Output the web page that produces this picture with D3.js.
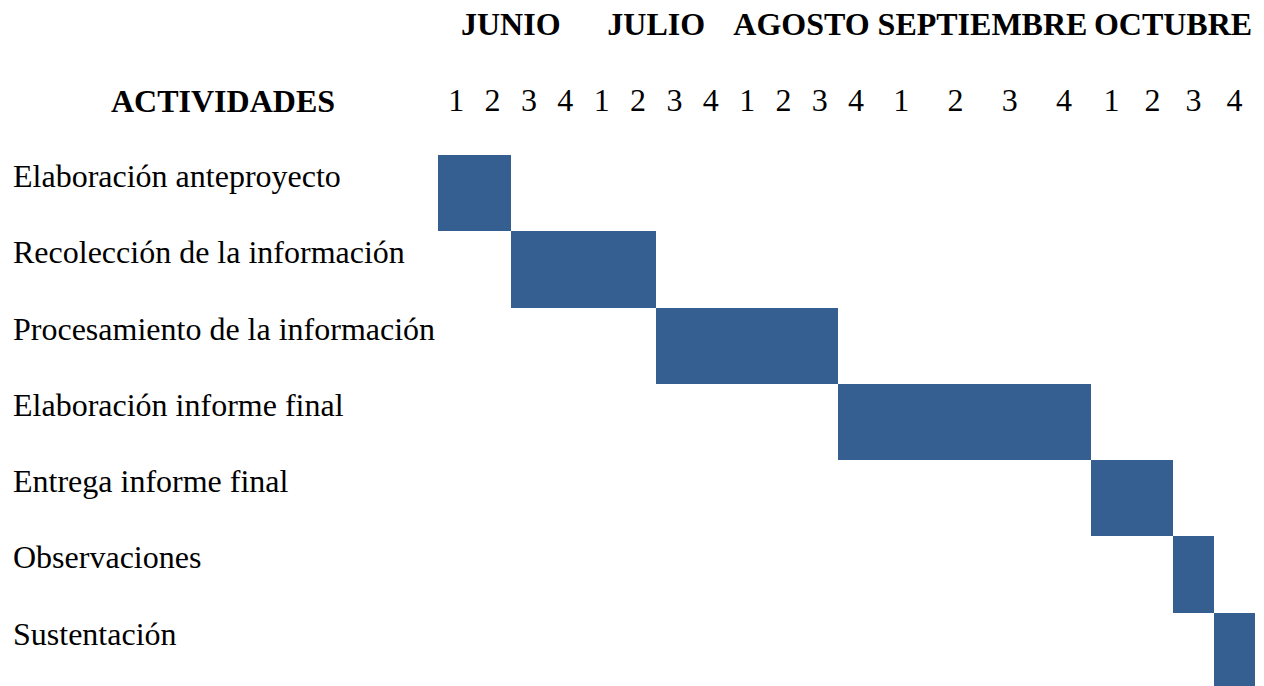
<!DOCTYPE html>
<html>
<head>
<meta charset="utf-8">
<script src="https://cdn.jsdelivr.net/npm/d3@7"></script>
<style>
  html, body { margin: 0; padding: 0; background: #fff; }
  text { font-family: "Liberation Serif", "Times New Roman", serif; fill: #000; }
</style>
</head>
<body>
<div id="chart"></div>
<script>
// data
var months = ["JUNIO", "JULIO", "AGOSTO", "SEPTIEMBRE", "OCTUBRE"];
var weekLabels = ["1", "2", "3", "4"];
var activities = [
    "Elaboración anteproyecto",
    "Recolección de la información",
    "Procesamiento de la información",
    "Elaboración informe final",
    "Entrega informe final",
    "Observaciones",
    "Sustentación"
];
// week index (0 = first week of JUNIO), end is exclusive
var startWeek = [0, 2, 6, 11, 16, 18, 19];
var endWeek   = [2, 6, 11, 16, 18, 19, 20];

var width = 1264, height = 686,
    barColor = "#365f91",
    fontSize = 32;

var svg = d3.select("#chart").append("svg")
    .attr("width", width)
    .attr("height", height);

// the columns are not even in the original table, so the week scale is piecewise
var X = d3.scaleLinear()
    .domain([0, 8, 12, 16, 20])
    .range([438, 729, 874, 1091, 1255]);

var Y = d3.scaleBand()
    .domain(d3.range(activities.length))
    .range([155, 689]);

// month headers
svg.selectAll("text.month")
    .data(months)
    .enter().append("text")
    .attr("class", "month")
    .attr("x", function(d, i) { return (X(i * 4) + X(i * 4 + 4)) / 2; })
    .attr("y", 35)
    .attr("text-anchor", "middle")
    .style("font-weight", "bold")
    .style("font-size", fontSize + "px")
    .text(function(d) { return d; });

// week numbers
var weeks = [];
months.forEach(function(m, i) {
    weekLabels.forEach(function(w, j) { weeks.push({idx: i * 4 + j, label: w}); });
});

svg.selectAll("text.week")
    .data(weeks)
    .enter().append("text")
    .attr("class", "week")
    .attr("x", function(d) { return (X(d.idx) + X(d.idx + 1)) / 2; })
    .attr("y", 111)
    .attr("text-anchor", "middle")
    .style("font-size", fontSize + "px")
    .text(function(d) { return d.label; });

svg.append("text")
    .attr("x", 223)
    .attr("y", 112)
    .attr("text-anchor", "middle")
    .style("font-weight", "bold")
    .style("font-size", fontSize + "px")
    .text("ACTIVIDADES");

// activity names
svg.selectAll("text.act")
    .data(activities)
    .enter().append("text")
    .attr("class", "act")
    .attr("x", 13)
    .attr("y", function(d, i) { return Y(i) + 32; })
    .style("font-size", fontSize + "px")
    .text(function(d) { return d; });

// bars
svg.selectAll("rect.bar")
    .data(activities)
    .enter().append("rect")
    .attr("class", "bar")
    .attr("x", function(d, i) { return X(startWeek[i]); })
    .attr("y", function(d, i) { return Y(i); })
    .attr("width", function(d, i) { return X(endWeek[i]) - X(startWeek[i]); })
    .attr("height", Y.bandwidth())
    .attr("fill", barColor)
    .attr("shape-rendering", "crispEdges");
</script>
</body>
</html>
